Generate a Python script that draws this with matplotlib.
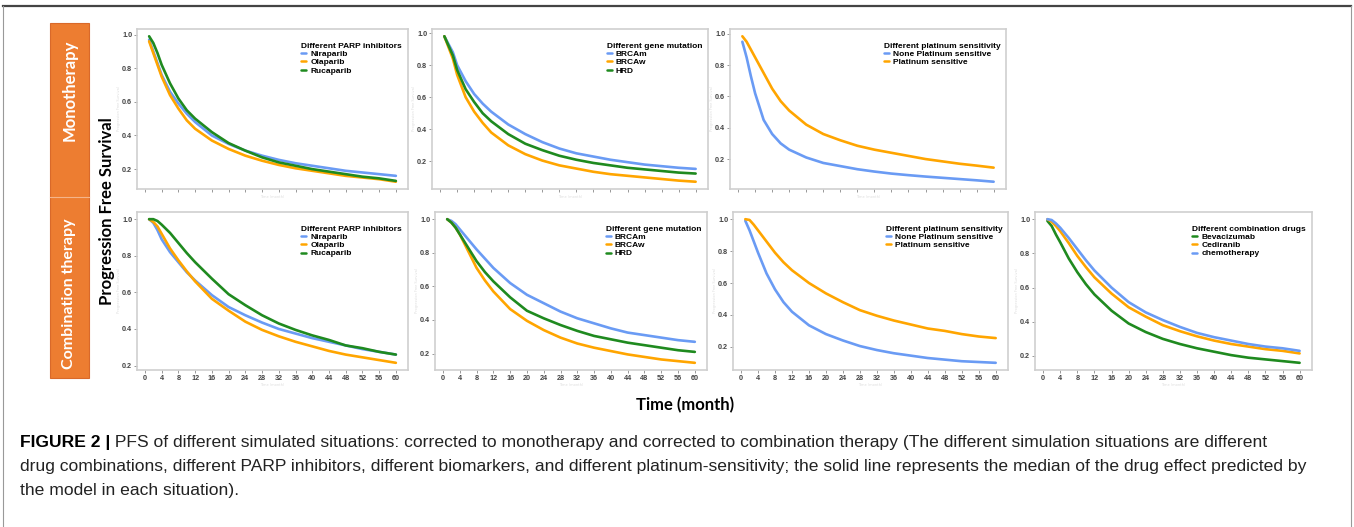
import matplotlib
matplotlib.use("Agg")
import matplotlib.pyplot as plt
from matplotlib.patches import Rectangle
from matplotlib.lines import Line2D
from matplotlib import font_manager

months = [1, 2, 3, 4, 6, 8, 10, 12, 16, 20, 24, 28, 32, 36, 40, 44, 48, 52, 56, 60]

# monotherapy
mono_nira = [0.97, 0.90, 0.83, 0.76, 0.66, 0.59, 0.53, 0.48, 0.40, 0.35, 0.31, 0.28, 0.255, 0.235, 0.22, 0.205, 0.19, 0.18, 0.17, 0.16]
mono_ola = [0.96, 0.89, 0.82, 0.75, 0.64, 0.56, 0.49, 0.44, 0.37, 0.32, 0.28, 0.25, 0.225, 0.205, 0.19, 0.175, 0.16, 0.15, 0.14, 0.125]
mono_ruca = [0.99, 0.95, 0.89, 0.82, 0.71, 0.62, 0.55, 0.50, 0.42, 0.355, 0.31, 0.27, 0.24, 0.22, 0.20, 0.185, 0.17, 0.155, 0.145, 0.13]

mono_brcam = [0.98, 0.93, 0.88, 0.80, 0.70, 0.62, 0.56, 0.51, 0.43, 0.37, 0.32, 0.28, 0.25, 0.23, 0.21, 0.195, 0.18, 0.17, 0.16, 0.153]
mono_brcaw = [0.98, 0.91, 0.84, 0.74, 0.60, 0.51, 0.44, 0.38, 0.30, 0.245, 0.205, 0.175, 0.155, 0.135, 0.12, 0.11, 0.10, 0.09, 0.08, 0.073]
mono_hrd = [0.98, 0.92, 0.86, 0.77, 0.65, 0.57, 0.50, 0.45, 0.37, 0.31, 0.27, 0.235, 0.21, 0.19, 0.175, 0.16, 0.15, 0.14, 0.13, 0.124]

mono_nonplat = [0.95, 0.85, 0.73, 0.62, 0.45, 0.36, 0.30, 0.26, 0.21, 0.175, 0.155, 0.135, 0.12, 0.107, 0.097, 0.088, 0.08, 0.072, 0.064, 0.055]
mono_plat = [0.985, 0.95, 0.90, 0.85, 0.75, 0.65, 0.57, 0.51, 0.42, 0.36, 0.32, 0.285, 0.26, 0.24, 0.22, 0.20, 0.185, 0.17, 0.158, 0.145]

# combination therapy
comb_nira = [1.0, 0.98, 0.94, 0.89, 0.82, 0.765, 0.71, 0.665, 0.585, 0.52, 0.475, 0.435, 0.40, 0.375, 0.35, 0.33, 0.31, 0.29, 0.275, 0.26]
comb_ola = [1.0, 0.985, 0.96, 0.92, 0.84, 0.775, 0.715, 0.66, 0.565, 0.50, 0.44, 0.395, 0.36, 0.33, 0.305, 0.28, 0.26, 0.245, 0.23, 0.215]
comb_ruca = [1.0, 1.0, 0.99, 0.97, 0.925, 0.87, 0.815, 0.765, 0.675, 0.59, 0.53, 0.475, 0.43, 0.395, 0.365, 0.34, 0.31, 0.295, 0.275, 0.26]

comb_brcam = [1.0, 0.99, 0.97, 0.94, 0.88, 0.82, 0.765, 0.71, 0.62, 0.55, 0.50, 0.45, 0.41, 0.38, 0.35, 0.325, 0.31, 0.295, 0.28, 0.27]
comb_brcaw = [1.0, 0.98, 0.95, 0.91, 0.81, 0.71, 0.635, 0.57, 0.465, 0.395, 0.34, 0.295, 0.26, 0.235, 0.215, 0.195, 0.18, 0.165, 0.155, 0.145]
comb_hrd = [1.0, 0.98, 0.95, 0.91, 0.83, 0.75, 0.685, 0.63, 0.535, 0.455, 0.41, 0.37, 0.335, 0.305, 0.285, 0.265, 0.25, 0.235, 0.22, 0.21]

comb_nonplat = [0.99, 0.93, 0.86, 0.79, 0.66, 0.56, 0.48, 0.42, 0.335, 0.28, 0.24, 0.205, 0.18, 0.16, 0.145, 0.13, 0.12, 0.11, 0.105, 0.10]
comb_plat = [1.0, 0.995, 0.965, 0.93, 0.86, 0.79, 0.73, 0.68, 0.60, 0.535, 0.48, 0.43, 0.395, 0.365, 0.34, 0.315, 0.30, 0.28, 0.265, 0.255]

comb_beva = [0.99, 0.96, 0.91, 0.865, 0.77, 0.69, 0.62, 0.56, 0.465, 0.39, 0.34, 0.30, 0.27, 0.245, 0.225, 0.205, 0.19, 0.18, 0.17, 0.16]
comb_cedi = [1.0, 0.985, 0.96, 0.93, 0.86, 0.785, 0.72, 0.66, 0.565, 0.485, 0.43, 0.38, 0.345, 0.315, 0.29, 0.27, 0.255, 0.24, 0.23, 0.215]
comb_chemo = [1.0, 0.995, 0.975, 0.95, 0.89, 0.825, 0.76, 0.70, 0.60, 0.515, 0.455, 0.41, 0.37, 0.335, 0.31, 0.29, 0.27, 0.255, 0.245, 0.23]

x_ticks = list(range(0, 61, 4))
y_ticks = [0.2, 0.4, 0.6, 0.8, 1.0]

BLUE = "#6A9BF4"
ORANGE = "#FFA500"
GREEN = "#1F8A1F"

caption_bold = "FIGURE 2 |"
caption_1 = " PFS of different simulated situations: corrected to monotherapy and corrected to combination therapy (The different simulation situations are different"
caption_2 = "drug combinations, different PARP inhibitors, different biomarkers, and different platinum-sensitivity; the solid line represents the median of the drug effect predicted by"
caption_3 = "the model in each situation)."

names = {f.name for f in font_manager.fontManager.ttflist}
cap_font = "Liberation Sans Narrow" if "Liberation Sans Narrow" in names else "Liberation Sans"
big_font = "Lato" if "Lato" in names else "DejaVu Sans"

W, H = 1354, 527
fig = plt.figure(figsize=(W / 100, H / 100), dpi=100)
bg = fig.add_axes([0, 0, 1, 1])
bg.set_xlim(0, W)
bg.set_ylim(H, 0)
bg.axis("off")


def px_axes(left, top, right, bottom):
    return fig.add_axes([left / W, 1 - bottom / H, (right - left) / W, (bottom - top) / H])


def panel(ax, series, title, show_xlabels):
    for ys, label, color in series:
        ax.plot(months, ys, color=color, lw=1.9, label=label, solid_capstyle="round")
    ax.set_xticks(x_ticks)
    ax.set_yticks(y_ticks)
    ax.set_yticklabels([f"{v:.1f}" for v in y_ticks])
    if not show_xlabels:
        ax.set_xticklabels([])
    ax.tick_params(length=2, width=0.6, color="#888888", labelsize=5.2, labelcolor="#444444", pad=1.5)
    for lab in ax.get_xticklabels() + ax.get_yticklabels():
        lab.set_fontfamily("Liberation Sans")
        lab.set_fontweight("bold")
    for s in ax.spines.values():
        s.set_color("#cfcfcf")
        s.set_linewidth(1.2)
    ax.set_xlim(-1.9, 62.9)
    ax.set_xlabel("Time (month)", fontsize=2.5, color="#dddddd", labelpad=1)
    ax.set_ylabel("Progression Free Survival", fontsize=2.5, color="#dddddd", labelpad=1)
    leg = ax.legend(loc="upper right", bbox_to_anchor=(1.0, 0.95), frameon=False,
                    title=title, handlelength=0.6, handletextpad=0.5, labelspacing=0.05,
                    borderaxespad=0.3, alignment="left",
                    prop={"family": "Liberation Sans", "weight": "bold", "size": 6},
                    title_fontproperties={"family": "Liberation Sans", "weight": "bold", "size": 6})
    for line in leg.get_lines():
        line.set_linewidth(1.8)


parp = "Different PARP inhibitors"
gene = "Different gene mutation"
plat = "Different platinum sensitivity"
comb = "Different combination drugs"

ax = px_axes(137, 29, 408, 189)
panel(ax, [(mono_nira, "Niraparib", BLUE), (mono_ola, "Olaparib", ORANGE), (mono_ruca, "Rucaparib", GREEN)], parp, False)
ax = px_axes(432, 29, 708, 189)
panel(ax, [(mono_brcam, "BRCAm", BLUE), (mono_brcaw, "BRCAw", ORANGE), (mono_hrd, "HRD", GREEN)], gene, False)
ax = px_axes(730, 29, 1006, 189)
panel(ax, [(mono_nonplat, "None Platinum sensitive", BLUE), (mono_plat, "Platinum sensitive", ORANGE)], plat, False)

ax = px_axes(137, 212, 408, 370)
panel(ax, [(comb_nira, "Niraparib", BLUE), (comb_ola, "Olaparib", ORANGE), (comb_ruca, "Rucaparib", GREEN)], parp, True)
ax = px_axes(435, 212, 707, 370)
panel(ax, [(comb_brcam, "BRCAm", BLUE), (comb_brcaw, "BRCAw", ORANGE), (comb_hrd, "HRD", GREEN)], gene, True)
ax = px_axes(733, 212, 1008, 370)
panel(ax, [(comb_nonplat, "None Platinum sensitive", BLUE), (comb_plat, "Platinum sensitive", ORANGE)], plat, True)
ax = px_axes(1035, 212, 1312, 370)
panel(ax, [(comb_beva, "Bevacizumab", GREEN), (comb_cedi, "Cediranib", ORANGE), (comb_chemo, "chemotherapy", BLUE)], comb, True)

# orange side box
bg.add_patch(Rectangle((50, 23), 39, 355, facecolor="#ED7D31", edgecolor="#D9692A", lw=0.8))
bg.plot([50, 89], [197, 197], color="#F5B48A", lw=0.8)
bg.text(69.5, 90, "Monotherapy", rotation=90, ha="center", va="center", color="white",
        fontsize=12, fontweight="bold", family=big_font)
bg.text(69.5, 294, "Combination therapy", rotation=90, ha="center", va="center", color="white",
        fontsize=11.5, fontweight="bold", family=big_font)

bg.text(107, 211, "Progression Free Survival", rotation=90, ha="center", va="center",
        fontsize=12, fontweight="bold", family=big_font)
bg.text(685, 405, "Time (month)", ha="center", va="center", fontsize=12, fontweight="bold", family=big_font)

# outer frame
bg.add_line(Line2D([3, 1351], [6, 6], color="#444444", lw=1.6))
bg.add_line(Line2D([3, 3], [6, 527], color="#999999", lw=0.8))
bg.add_line(Line2D([1351, 1351], [6, 527], color="#999999", lw=0.8))

# caption
t = bg.text(20, 443, caption_bold, ha="left", va="center", fontsize=12.6, fontweight="bold", family=cap_font)
bg.annotate(caption_1, xy=(1, 0.5), xycoords=t, ha="left", va="center", fontsize=12.6, family=cap_font, color="#222222")
bg.text(20, 467, caption_2, ha="left", va="center", fontsize=12.6, family=cap_font, color="#222222")
bg.text(20, 491, caption_3, ha="left", va="center", fontsize=12.6, family=cap_font, color="#222222")

fig.savefig("out.png", dpi=100)
